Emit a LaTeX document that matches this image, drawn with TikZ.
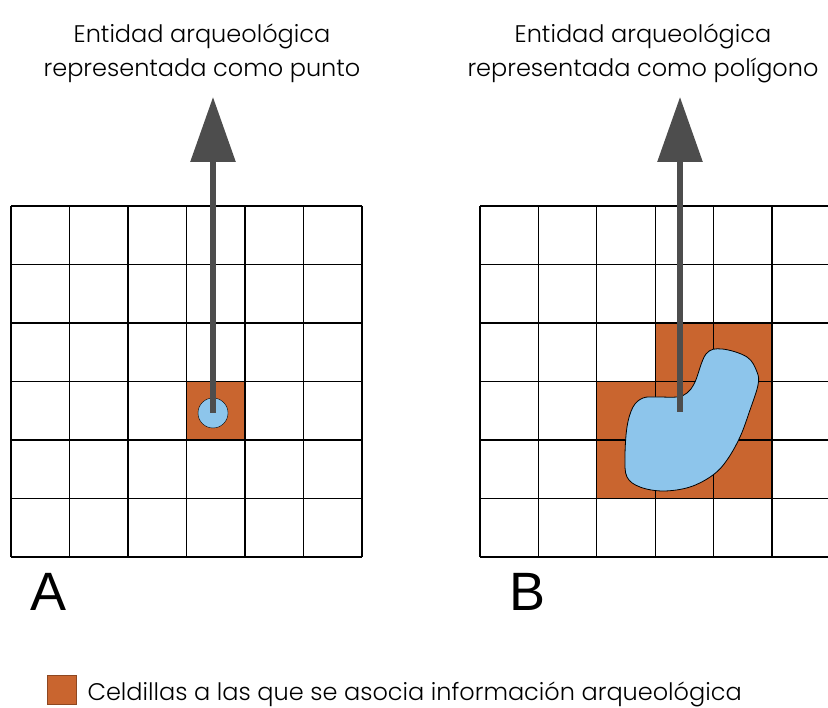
\documentclass[tikz,border=0pt]{standalone}
\usepackage{fontspec}
\setmainfont{Poppins Light}
\newfontfamily\letrafont{Liberation Sans}
\usetikzlibrary{arrows.meta}

\definecolor{celda}{HTML}{C9652F}
\definecolor{agua}{HTML}{8DC5EB}
\definecolor{flecha}{HTML}{4D4D4D}

\begin{document}
\begin{tikzpicture}[x=1pt,y=-1pt,
	titulo/.style = {align=center, font=\fontsize{24}{34}\selectfont},
	letra/.style = {anchor=base west, inner sep=0, font=\letrafont\fontsize{54}{54}\selectfont},
	flechagris/.style = {draw=flecha, line width=6pt, -{Triangle[length=65pt,width=44pt]}}]
	\useasboundingbox (0,0) rectangle (828,708);
	% celdillas
	\fill[celda] (187,382) rectangle (245,440);
	\fill[celda] (655,323) rectangle (772,382);
	\fill[celda] (597,382) rectangle (772,498);
	% rejilla A
	\foreach \i in {0,...,6} {
		\draw[line width=1.2pt] (11+58.5*\i,206) -- (11+58.5*\i,557);
		\draw[line width=1.2pt] (11,206+58.5*\i) -- (362,206+58.5*\i);
	}
	% rejilla B
	\foreach \i in {0,...,6}
		\draw[line width=1.2pt] (480,206+58.5*\i) -- (828,206+58.5*\i);
	\foreach \i in {0,...,5}
		\draw[line width=1.2pt] (480+58.4*\i,206) -- (480+58.4*\i,557);
	% entidades
	\node [draw, circle, fill = agua, minimum size = 30pt, inner sep = 0] (puntoA) at (213,413) {};
	\draw[fill=agua, line width=0.8pt] plot[smooth cycle, tension=0.6] coordinates {
		(706,354) (722,349) (747,357) (757,372) (758,385) (750,410) (740,437)
		(727,460) (713,475) (690,487) (663,491) (640,487) (627,477) (625,457)
		(627,427) (633,407) (643,398) (657,397) (677,397) (687,393) (695,382)};
	\coordinate (centroB) at (680,412);
	\coordinate (puntaA) at (213,97);
	\coordinate (puntaB) at (680,97);
	\draw[flechagris] (puntoA.center) -- (puntaA);
	\draw[flechagris] (centroB) -- (puntaB);
	% textos
	\node [titulo] (tituloA) at (202,53) {Entidad arqueológica\\representada como punto};
	\node [titulo] (tituloB) at (643,53) {Entidad arqueológica\\representada como polígono};
	\node [letra] (letraA) at (30,610) {A};
	\node [letra] (letraB) at (509,610) {B};
	\node [draw = celda!70!black, fill = celda, minimum size = 29pt, inner sep = 0] (cuadro) at (62,690) {};
	\node [anchor = base west, font = \fontsize{24}{24}\selectfont] (leyenda) at (84,700) {Celdillas a las que se asocia información arqueológica};
\end{tikzpicture}
\end{document}
